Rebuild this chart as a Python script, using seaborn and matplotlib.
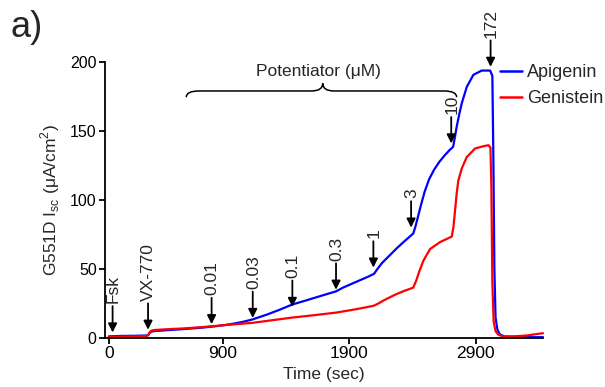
import numpy as np
import pandas as pd
import seaborn as sns
import matplotlib
matplotlib.use("Agg")
import matplotlib.pyplot as plt
from matplotlib.path import Path
from matplotlib.patches import PathPatch

# ---------------- data ----------------
api_time = [0, 100, 200, 300, 312, 322, 335, 360, 450, 600, 750, 850, 950, 1050, 1137,
            1250, 1350, 1450, 1550, 1650, 1795, 1850, 1950, 2050, 2095, 2130, 2160, 2220,
            2280, 2340, 2405, 2420, 2440, 2465, 2495, 2530, 2570, 2610, 2650, 2690, 2720,
            2735, 2748, 2768, 2788, 2828, 2880, 2946, 3012, 3030, 3038, 3046, 3055, 3070,
            3090, 3130, 3300, 3430]
api_isc = [1.2, 1.5, 1.6, 1.8, 2.2, 3.5, 4.6, 5.0, 5.6, 6.5, 7.6, 8.6, 9.8, 11.5, 13.5,
           17, 20.5, 24.3, 27, 29.8, 33.8, 36.5, 40.5, 44.5, 46.5, 51, 54.5, 60,
           65.5, 70.5, 75.7, 80, 87, 96, 106, 115, 122, 127.5, 132, 136, 138.5,
           146, 153, 162, 170, 182, 190.7, 193.8, 193.8, 190, 130, 50, 15, 6,
           2.5, 1.0, 0.6, 0.6]

gen_time = [0, 100, 200, 300, 312, 322, 335, 360, 450, 600, 750, 850, 950, 1137, 1300,
            1450, 1600, 1795, 1950, 2090, 2130, 2170, 2260, 2330, 2405, 2430, 2450, 2485,
            2538, 2617, 2709, 2722, 2735, 2748, 2761, 2788, 2827, 2893, 2960, 2999, 3015,
            3022, 3030, 3040, 3055, 3075, 3110, 3200, 3300, 3430]
gen_isc = [0.8, 1.0, 1.2, 1.4, 2.2, 4.0, 5.3, 5.8, 6.3, 7.0, 8.0, 8.8, 9.6, 11, 13,
           14.8, 16.3, 18.4, 20.8, 23.3, 25, 27.2, 31.3, 34, 36.5, 42, 47.5, 56,
           64.5, 69.5, 73.5, 80, 92, 104.6, 114, 122.8, 131, 137.3, 139, 139.7, 138,
           110, 40, 12, 5, 2.5, 1.2, 1.2, 1.8, 3.5]

series_names = ["Apigenin", "Genistein"]
series_colors = ["#0000ff", "#ff0000"]

event_labels = ["Fsk", "VX-770", "0.01", "0.03", "0.1", "0.3", "1", "3", "10", "172"]
event_times = [30, 310, 812, 1137, 1450, 1795, 2090, 2388, 2705, 3016]
event_tips = [4, 6, 10, 14.5, 22.5, 35, 51, 80, 141, 196.5]

x_ticks = [0, 900, 1900, 2900]
y_ticks = [0, 50, 100, 150, 200]

# ---------------- style ----------------
sns.set_style("ticks")
plt.rcParams["font.family"] = ["Liberation Sans", "DejaVu Sans"]
plt.rcParams["axes.linewidth"] = 1.3
plt.rcParams["xtick.major.width"] = 1.3
plt.rcParams["ytick.major.width"] = 1.3
plt.rcParams["xtick.major.size"] = 4
plt.rcParams["ytick.major.size"] = 4
plt.rcParams["xtick.color"] = "black"
plt.rcParams["ytick.color"] = "black"
plt.rcParams["axes.edgecolor"] = "black"

df = pd.concat([
    pd.DataFrame({"Time": api_time, "Isc": api_isc, "Potentiator": series_names[0]}),
    pd.DataFrame({"Time": gen_time, "Isc": gen_isc, "Potentiator": series_names[1]}),
], ignore_index=True)

fig = plt.figure(figsize=(6.05, 3.87), dpi=100)
ax = fig.add_axes([105 / 605, 1 - 338 / 387, (543 - 105) / 605, (338 - 62) / 387])

sns.lineplot(data=df, x="Time", y="Isc", hue="Potentiator",
             palette=dict(zip(series_names, series_colors)),
             estimator=None, sort=False, lw=1.6, ax=ax)
for ln in ax.lines:
    ln.set_clip_on(False)

ax.set_xlim(-30, 3430)
ax.set_ylim(0, 200)
ax.set_xticks(x_ticks)
ax.set_yticks(y_ticks)
ax.tick_params(axis="x", labelsize=12.5, pad=2)
ax.tick_params(axis="y", labelsize=11.5, pad=2)
sns.despine(ax=ax)

ax.set_xlabel("Time (sec)", fontsize=12.5, labelpad=4)
ax.set_ylabel(r"G551D I$_{\mathregular{sc}}$ (μA/cm$^{\mathregular{2}}$)", fontsize=12.5, labelpad=6)

leg = ax.legend(loc="upper left", bbox_to_anchor=(500 / 605, 1 - 64 / 387),
                bbox_transform=fig.transFigure, frameon=False, fontsize=13,
                handlelength=1.2, handletextpad=0.3, labelspacing=0.5, borderpad=0,
                borderaxespad=0)
for h in leg.get_lines():
    h.set_linewidth(1.8)

# event arrows
for lbl, t, tip in zip(event_labels, event_times, event_tips):
    ax.annotate("", xy=(t, tip), xytext=(0, 19), textcoords="offset points",
                xycoords="data",
                arrowprops=dict(arrowstyle="-|>", color="black", lw=1.3,
                                mutation_scale=13, shrinkA=0, shrinkB=0),
                annotation_clip=False)
    ax.annotate(lbl, xy=(t, tip), xytext=(0.5, 21), textcoords="offset points",
                rotation=90, ha="center", va="bottom", fontsize=12.5,
                annotation_clip=False)

# brace over potentiator additions
bx0, bx1, bxc = 612, 2748, 1690
by_end, by_line, by_tip = 174.5, 179, 184.5
verts = [(bx0, by_end), (bx0, by_line), (bx0 + 100, by_line),
         (bxc - 90, by_line), (bxc, by_line), (bxc, by_tip),
         (bxc, by_line), (bxc + 90, by_line),
         (bx1 - 100, by_line), (bx1, by_line), (bx1, by_end)]
codes = [Path.MOVETO, Path.CURVE3, Path.CURVE3,
         Path.LINETO, Path.CURVE3, Path.CURVE3,
         Path.CURVE3, Path.CURVE3,
         Path.LINETO, Path.CURVE3, Path.CURVE3]
ax.add_patch(PathPatch(Path(verts, codes), fill=False, lw=1.1, color="black", clip_on=False))
ax.text(1655, 193, "Potentiator (μM)", ha="center", va="center", fontsize=12.5)

fig.text(10 / 605, 1 - 10 / 387, "a)", ha="left", va="top", fontsize=26)

fig.savefig("out.png", dpi=100)
